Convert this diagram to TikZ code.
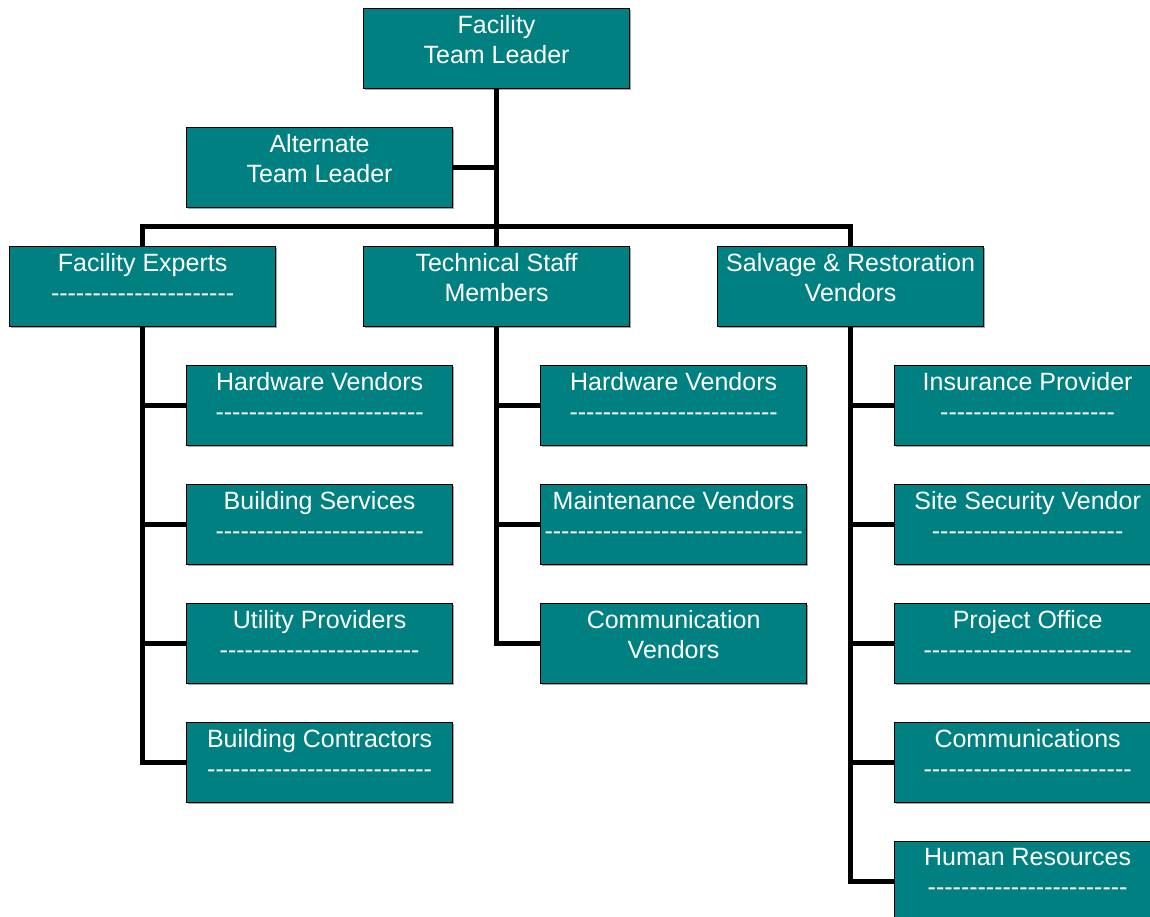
\documentclass[tikz,border=0pt]{standalone}
\usepackage{fontspec}
\setmainfont{Liberation Sans}
\usetikzlibrary{shadows}
\definecolor{boxteal}{RGB}{0,128,128}
\newcommand\dashrow[1]{\foreach\i in {1,...,#1}{-\kern0pt}}
\tikzset{
  box/.style={draw=black, line width=1.2pt, fill=boxteal, minimum width=266pt,
    minimum height=80pt, inner sep=0pt, anchor=north west,
    drop shadow={shadow xshift=1.2pt, shadow yshift=-1.2pt, fill=black!35, opacity=1}},
  lbl/.style={anchor=north, inner sep=0pt, text=white, align=center,
    font=\fontsize{25}{30}\selectfont, yshift=-7pt},
  link/.style={line width=5pt, line join=miter}
}
% #1 name, #2 left x, #3 top y, #4 text
\newcommand\orgbox[4]{%
  \node[box] (#1) at (#2,#3) {};
  \node[lbl] (#1-t) at (#1.north) {#4};}
\begin{document}
\begin{tikzpicture}[x=1pt,y=-1pt]
\useasboundingbox (0,0) rectangle (1150,916);
\clip (0,0) rectangle (1150,916);

% top of the chart
\orgbox{tl}{363}{8}{Facility\\Team Leader}
\orgbox{alt}{186}{127}{Alternate\\Team Leader}

% second tier
\orgbox{fe}{9}{246}{Facility Experts\\\dashrow{22}}
\orgbox{ts}{363}{246}{Technical Staff\\Members}
\orgbox{sr}{717}{246}{Salvage \& Restoration\\Vendors}

% facility experts group
\orgbox{hv1}{186}{365}{Hardware Vendors\\\dashrow{25}}
\orgbox{bs}{186}{484}{Building Services\\\dashrow{25}}
\orgbox{up}{186}{603}{Utility Providers\\\dashrow{24}}
\orgbox{bc}{186}{722}{Building Contractors\\\dashrow{27}}

% technical staff group
\orgbox{hv2}{540}{365}{Hardware Vendors\\\dashrow{25}}
\orgbox{mv}{540}{484}{Maintenance Vendors\\\dashrow{31}}
\orgbox{cv}{540}{603}{Communication\\Vendors}

% salvage and restoration group
\orgbox{ip}{894}{365}{Insurance Provider\\\dashrow{21}}
\orgbox{ssv}{894}{484}{Site Security Vendor\\\dashrow{23}}
\orgbox{po}{894}{603}{Project Office\\\dashrow{25}}
\orgbox{com}{894}{722}{Communications\\\dashrow{25}}
\orgbox{hr}{894}{841}{Human Resources\\\dashrow{24}}

% connectors
\coordinate (bus) at (496,226.7);
\draw[link] (tl.south) -- (ts.north);
\draw[link] (alt.east) -- (alt.east -| tl.south);
\draw[link] (fe.north) |- (bus) -| (sr.north);

\foreach \c in {hv1,bs,up,bc} \draw[link] (fe.south) |- (\c.west);
\foreach \c in {hv2,mv,cv} \draw[link] (ts.south) |- (\c.west);
\foreach \c in {ip,ssv,po,com,hr} \draw[link] (sr.south) |- (\c.west);
\end{tikzpicture}
\end{document}
